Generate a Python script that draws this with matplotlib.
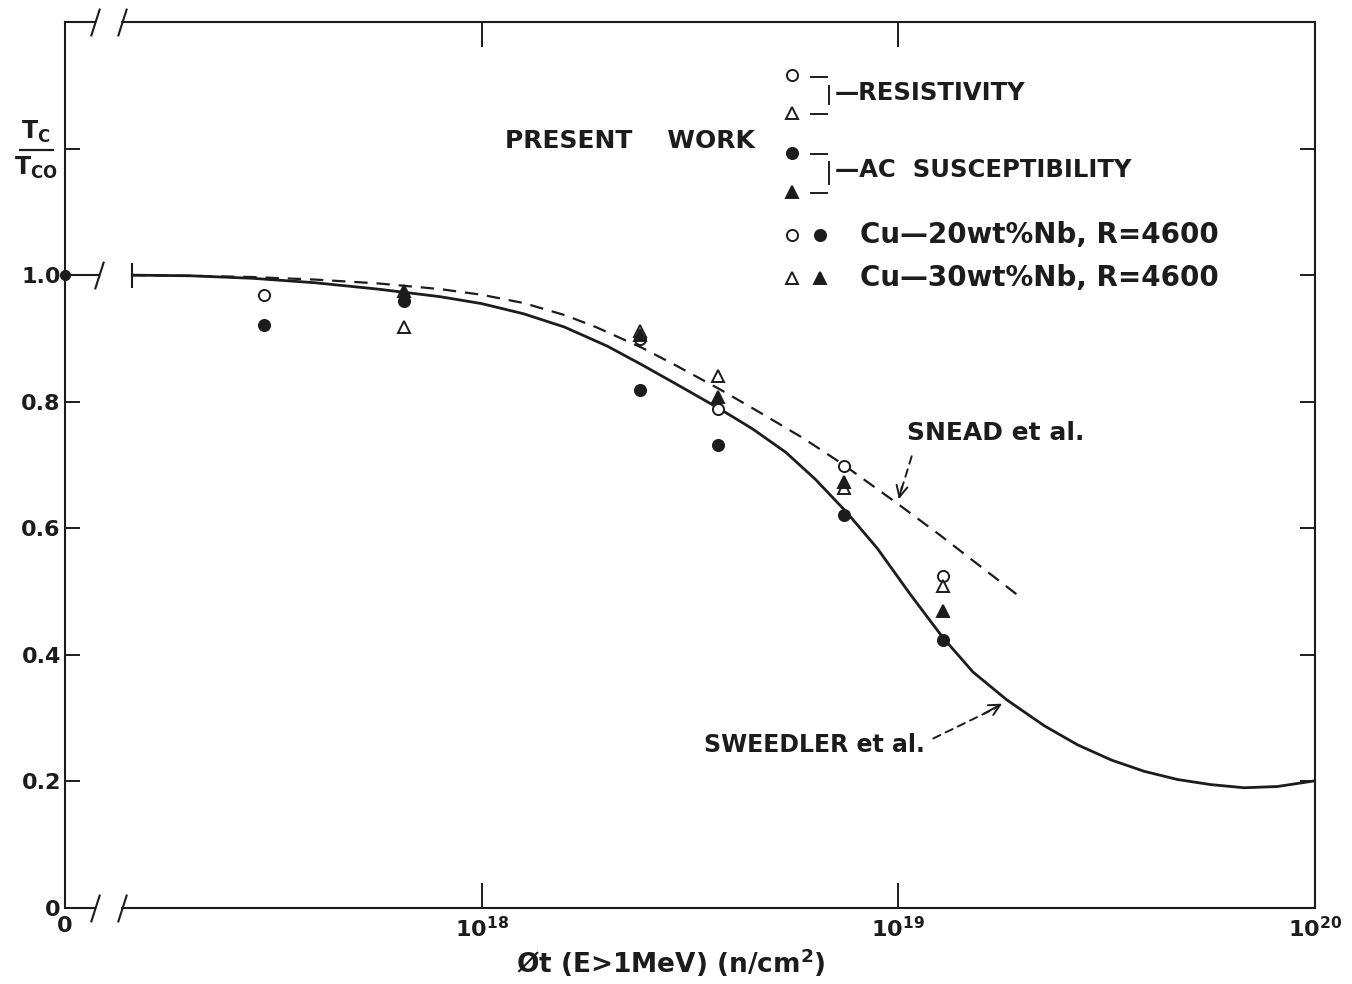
import matplotlib
matplotlib.use('Agg')
import matplotlib.pyplot as plt
from matplotlib.lines import Line2D
from matplotlib.path import Path

plt.rcParams['font.family'] = ['DejaVu Sans']
plt.rcParams['font.weight'] = 'bold'
plt.rcParams['mathtext.default'] = 'bf'

INK = '#1c1c1c'

# fluence groups (n/cm^2, E>1MeV)
flux_res20 = [3.0e17, 2.4e18, 3.7e18, 7.4e18, 1.28e19]
tc_res20 = [0.968, 0.899, 0.789, 0.699, 0.525]

flux_ac20 = [3.0e17, 6.5e17, 2.4e18, 3.7e18, 7.4e18, 1.28e19]
tc_ac20 = [0.922, 0.959, 0.818, 0.732, 0.621, 0.423]

flux_res30 = [6.5e17, 2.4e18, 3.7e18, 7.4e18, 1.28e19]
tc_res30 = [0.918, 0.911, 0.841, 0.664, 0.509]

flux_ac30 = [6.5e17, 2.4e18, 3.7e18, 7.4e18, 1.28e19]
tc_ac30 = [0.975, 0.905, 0.807, 0.673, 0.469]

# Sweedler et al. (solid)
sweedler_flux = [1.45e17, 2.0e17, 2.82e17, 3.98e17, 5.62e17, 7.94e17, 1.0e18,
                 1.26e18, 1.58e18, 2.0e18, 2.43e18, 3.02e18, 3.72e18, 4.47e18,
                 5.37e18, 6.31e18, 7.5e18, 8.91e18, 1.07e19, 1.28e19, 1.51e19,
                 1.82e19, 2.24e19, 2.69e19, 3.24e19, 3.89e19, 4.68e19, 5.62e19,
                 6.76e19, 8.13e19, 1.0e20]
sweedler_tc = [1.000, 0.999, 0.995, 0.988, 0.978, 0.966, 0.955,
               0.939, 0.918, 0.888, 0.858, 0.823, 0.789, 0.757,
               0.720, 0.678, 0.626, 0.568, 0.495, 0.427, 0.373,
               0.329, 0.288, 0.258, 0.234, 0.216, 0.203, 0.195,
               0.190, 0.192, 0.201]

# Snead et al. (dashed)
snead_flux = [1.45e17, 2.0e17, 2.82e17, 3.98e17, 5.62e17, 7.94e17, 1.0e18,
              1.26e18, 1.58e18, 1.88e18, 2.43e18, 2.95e18, 3.72e18, 4.57e18,
              5.89e18, 7.33e18, 1.0e19, 1.26e19, 1.58e19, 1.92e19]
snead_tc = [1.000, 0.999, 0.997, 0.993, 0.987, 0.978, 0.969,
            0.956, 0.937, 0.918, 0.885, 0.856, 0.820, 0.786,
            0.743, 0.702, 0.638, 0.589, 0.539, 0.496]

zero_flux = 1e17          # position drawn as "0" on the broken axis
zero_tc = 1.0

xticks = [1e17, 1e18, 1e19, 1e20]
xticklabels = ['0', r'10$^{18}$', r'10$^{19}$', r'10$^{20}$']
yticks = [0, 0.2, 0.4, 0.6, 0.8, 1.0, 1.2]
yticklabels = ['0', '0.2', '0.4', '0.6', '0.8', '1.0', '']

W, H = 1352, 984
fig = plt.figure(figsize=(W / 100, H / 100), dpi=100)
ax = fig.add_axes([65 / W, 1 - 908 / H, 1250 / W, 886 / H])
ax.set_xscale('log')
ax.set_xlim(1e17, 1e20)
ax.set_ylim(0, 1.4)


def fx(px):
    return px / W


def fy(py):
    return 1 - py / H


# axis frame: left/right spines kept, top/bottom drawn with a break
for s in ['top', 'bottom']:
    ax.spines[s].set_visible(False)
for s in ['left', 'right']:
    ax.spines[s].set_linewidth(1.5)
    ax.spines[s].set_color(INK)

xa = ax.get_xaxis_transform()
brk1, brk2 = 1.18e17, 1.37e17
for yy in [0, 1]:
    ax.plot([1e17, brk1], [yy, yy], color=INK, lw=1.5, transform=xa, clip_on=False)
    ax.plot([brk2, 1e20], [yy, yy], color=INK, lw=1.5, transform=xa, clip_on=False)

slash = Path([(-0.16, -0.5), (0.16, 0.5)], [Path.MOVETO, Path.LINETO])
for yy in [0, 1]:
    ax.plot([brk1, brk2], [yy, yy], ls='none', marker=slash, ms=20, mew=1.5,
            color=INK, transform=xa, clip_on=False)

# zero-fluence value and its broken segment
ax.plot([zero_flux], [zero_tc], 'o', color=INK, ms=7, clip_on=False, zorder=5)
ax.plot([zero_flux, 1.21e17], [zero_tc, zero_tc], color=INK, lw=1.5, clip_on=False)
ax.plot([1.21e17], [zero_tc], ls='none', marker=slash, ms=20, mew=1.5, color=INK)
ax.plot([sweedler_flux[0]], [sweedler_tc[0]], ls='none', marker='|', ms=18, mew=1.5, color=INK)

ax.plot(sweedler_flux, sweedler_tc, color=INK, lw=2.0, zorder=2)
ax.plot(snead_flux, snead_tc, color=INK, lw=1.6, ls=(0, (6, 4)), zorder=2)

mk = dict(ls='none', ms=8, mew=1.4, mec=INK, zorder=4)
ax.plot(flux_res20, tc_res20, marker='o', mfc='white', **mk)
ax.plot(flux_ac20, tc_ac20, marker='o', mfc=INK, **mk)
ax.plot(flux_res30, tc_res30, marker='^', mfc='white', **mk)
ax.plot(flux_ac30, tc_ac30, marker='^', mfc=INK, **mk)

ax.set_xticks(xticks)
ax.set_xticklabels(xticklabels)
ax.xaxis.set_minor_locator(matplotlib.ticker.NullLocator())
ax.set_yticks(yticks)
ax.set_yticklabels(yticklabels)
ax.tick_params(axis='x', which='major', direction='in', length=18, width=1.4,
               top=True, bottom=True, labelsize=16, pad=6, colors=INK)
ax.tick_params(axis='y', which='major', direction='in', length=11, width=1.4,
               left=True, right=True, labelsize=16, pad=3, colors=INK)

# annotations
ax.text(10 ** 19.022, 0.75, 'SNEAD et al.', fontsize=18, va='center', ha='left', color=INK)
ax.annotate('', xy=(1.0e19, 0.645), xytext=(10 ** 19.034, 0.718),
            arrowprops=dict(arrowstyle='-', ls=(0, (4, 3)), lw=1.4, color=INK))
ax.annotate('', xy=(1.0e19, 0.642), xytext=(10 ** 19.01, 0.67),
            arrowprops=dict(arrowstyle='->', lw=1.4, color=INK, mutation_scale=20))

ax.text(10 ** 18.533, 0.258, 'SWEEDLER et al.', fontsize=17, va='center', ha='left', color=INK)
ax.annotate('', xy=(10 ** 19.24, 0.318), xytext=(10 ** 19.078, 0.266),
            arrowprops=dict(arrowstyle='-', ls=(0, (4, 3)), lw=1.4, color=INK))
ax.annotate('', xy=(10 ** 19.255, 0.325), xytext=(10 ** 19.2, 0.305),
            arrowprops=dict(arrowstyle='->', lw=1.4, color=INK, mutation_scale=20))

# legend block
fig.text(fx(505), fy(141), 'PRESENT    WORK', fontsize=18, va='center', ha='left', color=INK)


def lmark(px, py, m, filled):
    fig.add_artist(Line2D([fx(px)], [fy(py)], marker=m, ms=8, mew=1.4, mec=INK,
                          mfc=INK if filled else 'white', ls='none'))


def lline(x0, y0, x1, y1):
    fig.add_artist(Line2D([fx(x0), fx(x1)], [fy(y0), fy(y1)], color=INK, lw=1.4))


lmark(792, 75, 'o', False)
lmark(792, 113, '^', False)
lline(811, 77, 827, 77)
lline(811, 114, 827, 114)
lline(829, 86, 829, 104)
fig.text(fx(835), fy(93), '—RESISTIVITY', fontsize=17.5, va='center', ha='left', color=INK)

lmark(792, 153, 'o', True)
lmark(792, 192, '^', True)
lline(811, 154, 827, 154)
lline(811, 193, 827, 193)
lline(829, 162, 829, 184)
fig.text(fx(835), fy(170), '—AC  SUSCEPTIBILITY', fontsize=17.5, va='center', ha='left', color=INK)

lmark(792, 235, 'o', False)
lmark(820, 235, 'o', True)
fig.text(fx(860), fy(235), 'Cu—20wt%Nb, R=4600', fontsize=20, va='center', ha='left', color=INK)
lmark(792, 278, '^', False)
lmark(820, 278, '^', True)
fig.text(fx(860), fy(278), 'Cu—30wt%Nb, R=4600', fontsize=20, va='center', ha='left', color=INK)

# axis titles
fig.text(fx(671), fy(963), r'Øt (E>1MeV) (n/cm$^2$)', fontsize=19, va='center', ha='center', color=INK)
fig.text(fx(36), fy(132), r'T$_{C}$', fontsize=17, va='center', ha='center', color=INK)
fig.text(fx(36), fy(168), r'T$_{CO}$', fontsize=17, va='center', ha='center', color=INK)
fig.add_artist(Line2D([fx(20), fx(53)], [fy(150), fy(150)], color=INK, lw=1.6))

fig.savefig('out.png', dpi=100, facecolor='white')
